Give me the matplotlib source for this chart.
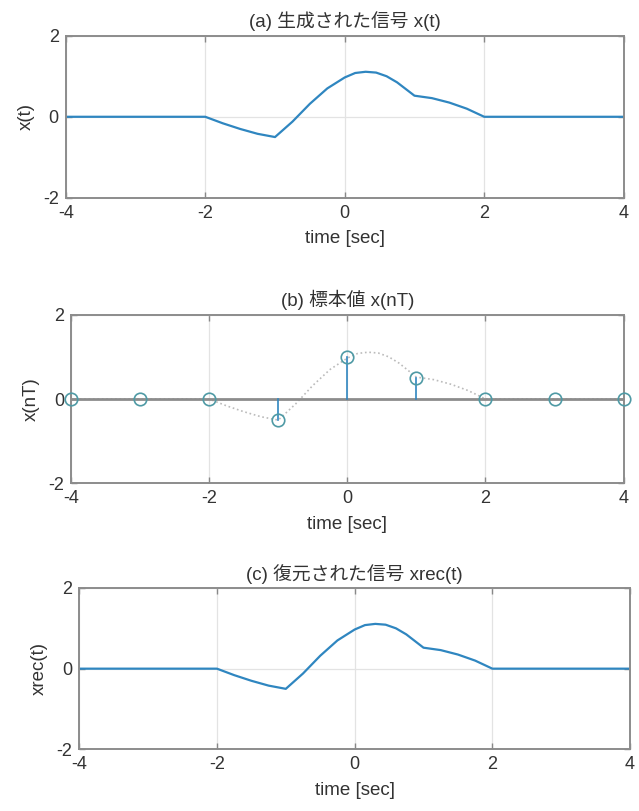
import matplotlib
matplotlib.use('Agg')
import matplotlib.pyplot as plt

plt.rcParams['font.family'] = ['Liberation Sans', 'Noto Sans CJK JP', 'DejaVu Sans']
plt.rcParams['axes.unicode_minus'] = False

# generated signal x(t)
t_pts = [-4, -2, -1.75, -1.5, -1.25, -1, -0.75, -0.5, -0.25, 0, 0.15, 0.3, 0.45, 0.6, 0.75, 1,
         1.25, 1.5, 1.75, 2, 4]
x_vals = [0, 0, -0.16, -0.3, -0.42, -0.5, -0.12, 0.32, 0.7, 0.97, 1.08, 1.11, 1.09, 1.0, 0.85, 0.52,
          0.46, 0.35, 0.2, 0, 0]

# samples x(nT), T = 1
n_pts = [-4, -3, -2, -1, 0, 1, 2, 3, 4]
xn_vals = [0, 0, 0, -0.5, 1, 0.5, 0, 0, 0]

# reconstructed signal xrec(t)
xrec_vals = [0, 0, -0.16, -0.3, -0.42, -0.5, -0.12, 0.32, 0.7, 0.97, 1.08, 1.11, 1.09, 1.0, 0.85, 0.52,
             0.46, 0.35, 0.2, 0, 0]

titles = ['(a) 生成された信号 x(t)', '(b) 標本値 x(nT)', '(c) 復元された信号 xrec(t)']
ylabels = ['x(t)', 'x(nT)', 'xrec(t)']

blue = '#2f86c0'
txt = '#333333'

fig = plt.figure(figsize=(6.39, 8.11), dpi=100)
ax1 = fig.add_axes([0.103, 0.756, 0.873, 0.200])
ax2 = fig.add_axes([0.111, 0.404, 0.865, 0.208])
ax3 = fig.add_axes([0.124, 0.076, 0.862, 0.199])

ax1.plot(t_pts, x_vals, color=blue, lw=1.6)

ax2.plot(t_pts, x_vals, ':', color='#bbbbbb', lw=1.2)
ax2.axhline(0, color='#8c8c8c', lw=2.0, zorder=2)
for n, v in zip(n_pts, xn_vals):
    ax2.plot([n, n], [0, v], color=blue, lw=1.2, zorder=3)
ax2.plot(n_pts, xn_vals, 'o', mfc='none', mec='#4f9aa5', ms=9, mew=1.2, zorder=4, clip_on=False)

ax3.plot(t_pts, xrec_vals, color=blue, lw=1.6)

for ax, ttl, yl in zip([ax1, ax2, ax3], titles, ylabels):
    ax.set_xlim(-4, 4)
    ax.set_ylim(-2, 2)
    ax.set_xticks([-4, -2, 0, 2, 4])
    ax.set_yticks([-2, 0, 2])
    ax.grid(True, color='#e3e3e3', lw=0.9)
    ax.set_axisbelow(True)
    ax.tick_params(direction='in', length=4, width=1, colors='#888888', labelcolor=txt,
                   labelsize=13, top=True, right=True, pad=5)
    for s in ax.spines.values():
        s.set_color('#8c8c8c')
        s.set_linewidth(1.4)
    ax.set_title(ttl, fontsize=13.5, color=txt, pad=6)
    ax.set_xlabel('time [sec]', fontsize=13.5, color=txt, labelpad=6)
    ax.set_ylabel(yl, fontsize=13.5, color=txt, labelpad=6)

fig.savefig('out.png', dpi=100)
